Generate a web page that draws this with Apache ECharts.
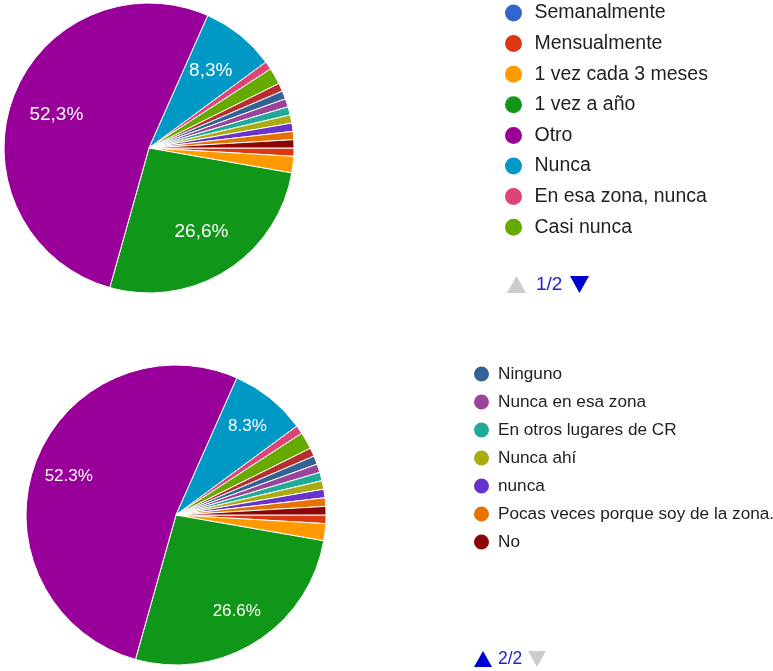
<!DOCTYPE html>
<html>
<head>
<meta charset="utf-8">
<script src="https://cdn.jsdelivr.net/npm/echarts@6/dist/echarts.min.js"></script>
<style>
  html, body { margin: 0; padding: 0; background: #fff; }
  #main { width: 773px; height: 671px; }
</style>
</head>
<body>
<div id="main"></div>
<script>
// categorías y respuestas (conteos)
const categories = [
  'Semanalmente', 'Mensualmente', '1 vez cada 3 meses', '1 vez a año', 'Otro',
  'Nunca', 'En esa zona, nunca', 'Casi nunca', 'Otra respuesta', 'Ninguno',
  'Nunca en esa zona', 'En otros lugares de CR', 'Nunca ahí', 'nunca',
  'Pocas veces porque soy de la zona.', 'No'
];
const counts = [0, 1, 2, 29, 57, 9, 1, 2, 1, 1, 1, 1, 1, 1, 1, 1];
const colors = [
  '#3366cc', '#dc3912', '#ff9900', '#109618', '#990099', '#0099c6', '#dd4477', '#66aa00',
  '#b82e2e', '#316395', '#994499', '#22aa99', '#aaaa11', '#6633cc', '#e67300', '#8b0707'
];
// la leyenda no muestra la novena categoría; página 1 y página 2
const legendNames = categories.filter((n, i) => i !== 8);
const legendPage1 = legendNames.slice(0, 8);
const legendPage2 = legendNames.slice(8);
const pageTexts = ['1/2', '2/2'];

const pieData = categories.map((name, i) => ({ name: name, value: counts[i] }));
const font = 'Liberation Sans, Arial, sans-serif';
const blue = '#0000cc';
const grey = '#cccccc';

const chart = echarts.init(document.getElementById('main'));

const labelFmt = (comma) => (p) => {
  if (p.percent < 5) return '';
  const s = p.percent.toFixed(1) + '%';
  return comma ? s.replace('.', ',') : s;
};

// paginador: triángulo arriba, texto, triángulo abajo
const up = (x, y, w, h, c) => ({ type: 'polygon', silent: true,
  shape: { points: [[x, y + h], [x + w / 2, y], [x + w, y + h]] }, style: { fill: c } });
const down = (x, y, w, h, c) => ({ type: 'polygon', silent: true,
  shape: { points: [[x, y], [x + w, y], [x + w / 2, y + h]] }, style: { fill: c } });
const pagerText = (x, y, t, size) => ({ type: 'text', silent: true, x: x, y: y,
  style: { text: t, fill: '#2222cc', font: size + 'px ' + font, textVerticalAlign: 'middle' } });

const pieBase = {
  type: 'pie', startAngle: 0, clockwise: true, data: pieData,
  label: { show: false }, labelLine: { show: false },
  itemStyle: { borderColor: '#fff', borderWidth: 1 },
  emphasis: { disabled: true }
};
const labelBase = {
  type: 'pie', startAngle: 0, clockwise: true, data: pieData,
  silent: true, percentPrecision: 1,
  itemStyle: { color: 'rgba(0,0,0,0)', borderWidth: 0 },
  labelLine: { show: false }, emphasis: { disabled: true }
};

const option = {
  animation: false,
  color: colors,
  legend: [
    {
      orient: 'vertical', icon: 'circle', selectedMode: false, padding: 0,
      data: legendPage1,
      left: 503, top: 2.5,
      itemWidth: 26, itemHeight: 19, itemGap: 9.6,
      textStyle: { fontSize: 19.5, lineHeight: 21, color: '#222', fontFamily: font,
        padding: [0, 0, 0, 3] }
    },
    {
      orient: 'vertical', icon: 'circle', selectedMode: false, padding: 0,
      data: legendPage2,
      left: 472, top: 364.5,
      itemWidth: 21, itemHeight: 17, itemGap: 9,
      textStyle: { fontSize: 17.2, lineHeight: 19, color: '#222', fontFamily: font,
        padding: [0, 0, 0, 1] }
    }
  ],
  graphic: [
    up(507, 276, 19, 17, grey),
    pagerText(536, 285, pageTexts[0], 19),
    down(570, 276, 19, 17, blue),
    up(474, 651, 18, 16, blue),
    pagerText(498, 659.5, pageTexts[1], 17.5),
    down(528, 651, 18, 16, grey)
  ],
  series: [
    Object.assign({}, pieBase, { center: [149, 148], radius: 145 }),
    Object.assign({}, pieBase, { center: [176, 515], radius: 150 }),
    // series only for the percent labels
    Object.assign({}, labelBase, { center: [149, 148], radius: [46, 145],
      label: { show: true, position: 'inside', formatter: labelFmt(true),
        color: '#fff', fontSize: 19, fontFamily: font } }),
    Object.assign({}, labelBase, { center: [176, 515], radius: [72, 150],
      label: { show: true, position: 'inside', formatter: labelFmt(false),
        color: '#fff', fontSize: 17, fontFamily: font } })
  ]
};
chart.setOption(option);
</script>
</body>
</html>
